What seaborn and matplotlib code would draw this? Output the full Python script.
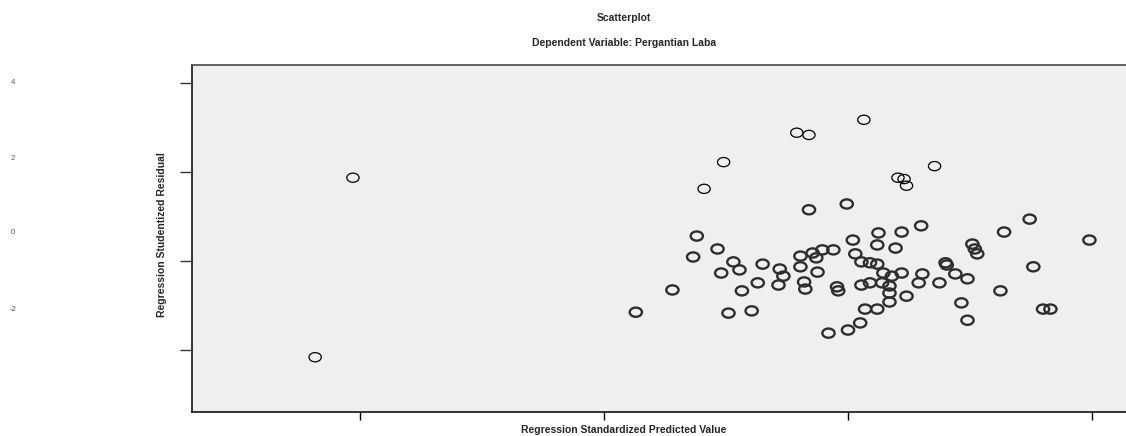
import matplotlib
matplotlib.use('Agg')
import matplotlib.pyplot as plt
import pandas as pd
import seaborn as sns
from matplotlib.path import Path
from matplotlib.transforms import Affine2D

# outliers (drawn with a thin outline)
pred_outer = [-4.37, -4.06, -1.18, -1.02, -0.42, -0.32, 0.13, 0.41, 0.46, 0.48, 0.71]
resid_outer = [-2.16, 1.87, 1.62, 2.22, 2.88, 2.83, 3.17, 1.87, 1.84, 1.69, 2.13]

# main cloud
pred_main = [-0.32, -0.01, -1.24, -1.07, -1.27, -0.94, -1.04, -0.89, -0.70, -0.56,
             -0.53, -0.57, -0.74, -0.87, -1.44, -1.74, -0.98, -0.79, -0.39, -0.39,
             -0.36, -0.35, -0.29, -0.26, -0.21, -0.12, -0.25, -0.09, -0.08, 0.04,
             0.06, 0.11, 0.18, 0.24, 0.25, 0.24, 0.39, 0.44, 0.60, 0.29,
             0.36, 0.44, 0.61, 0.58, 0.75, 0.11, 0.18, 0.28, 0.34, 0.34,
             0.34, 0.48, 0.14, 0.24, 0.10, 0.00, -0.16, 1.49, 1.28, 1.98,
             1.02, 1.04, 1.06, 0.80, 0.81, 0.88, 0.98, 1.52, 1.25, 0.93,
             0.98, 1.60, 1.66]
resid_main = [1.15, 1.28, 0.56, 0.27, 0.09, -0.02, -0.27, -0.20, -0.07, -0.18,
              -0.34, -0.54, -0.49, -0.67, -0.65, -1.15, -1.17, -1.12, 0.11, -0.13,
              -0.47, -0.63, 0.18, 0.07, 0.25, 0.25, -0.25, -0.58, -0.67, 0.47,
              0.16, -0.02, -0.04, -0.07, 0.63, 0.36, 0.29, 0.65, 0.79, -0.27,
              -0.34, -0.27, -0.29, -0.49, -0.49, -0.54, -0.49, -0.49, -0.56, -0.72,
              -0.92, -0.79, -1.08, -1.08, -1.39, -1.55, -1.62, 0.94, 0.65, 0.47,
              0.38, 0.27, 0.16, -0.04, -0.09, -0.29, -0.40, -0.13, -0.67, -0.94,
              -1.33, -1.08, -1.08]

xticks = [-4, -2, 0, 2]
yticks = [4, 2, 0, -2]
ytick_labels = ['4', '2', '0', '-2']

sns.set_style('white')
plt.rcParams['font.family'] = ['Liberation Sans', 'DejaVu Sans']

# flattened circle, like the SPSS marker
ring = Path.unit_circle().transformed(Affine2D().scale(1, 0.75))

fig = plt.figure(figsize=(11.26, 4.36), dpi=100)
ax = fig.add_axes([192 / 1126, 1 - 412 / 436, 1 - 192 / 1126, (412 - 65) / 436])
ax.set_facecolor('#efefef')

df_main = pd.DataFrame({'pred': pred_main, 'resid': resid_main})
df_outer = pd.DataFrame({'pred': pred_outer, 'resid': resid_outer})

sns.scatterplot(data=df_main, x='pred', y='resid', marker=ring, s=78,
                facecolor='none', edgecolor='#2e2e2e', linewidth=1.7, ax=ax)
sns.scatterplot(data=df_outer, x='pred', y='resid', marker=ring, s=78,
                facecolor='none', edgecolor='black', linewidth=0.9, ax=ax)

ax.set_xlim(-5.38, 2.28)
ax.set_ylim(-3.39, 4.40)
ax.set_xticks(xticks)
ax.set_yticks(yticks)
ax.tick_params(axis='x', length=6, width=1, color='black', labelbottom=False, bottom=True)
ax.tick_params(axis='y', length=9, width=1, color='#333333', labelleft=False, left=True)

for side in ['left', 'bottom']:
    ax.spines[side].set_color('black')
    ax.spines[side].set_linewidth(1.1)
ax.spines['top'].set_color('#555555')
ax.spines['top'].set_linewidth(1.3)
ax.spines['right'].set_visible(False)

ax.set_xlabel('Regression Standardized Predicted Value', fontsize=7.5, fontweight='bold')
ax.set_ylabel('Regression Studentized Residual', fontsize=7.5, fontweight='bold')
ax.xaxis.set_label_coords((624 - 192) / 934, -0.038)
ax.yaxis.set_label_coords(-25 / 934, 0.51)

# loose tick labels sitting at the far left, as in the source export
for lab, ypix in zip(ytick_labels, [83, 158, 233, 309]):
    fig.text(13 / 1126, 1 - ypix / 436, lab, fontsize=5.5, color='#555555', ha='center', va='center')

fig.text(624 / 1126, 1 - 18 / 436, 'Scatterplot', fontsize=7.5, fontweight='bold', ha='center', va='center')
fig.text(624 / 1126, 1 - 43 / 436, 'Dependent Variable: Pergantian Laba', fontsize=7.5,
         fontweight='bold', ha='center', va='center')

fig.savefig('out.png', dpi=100)
